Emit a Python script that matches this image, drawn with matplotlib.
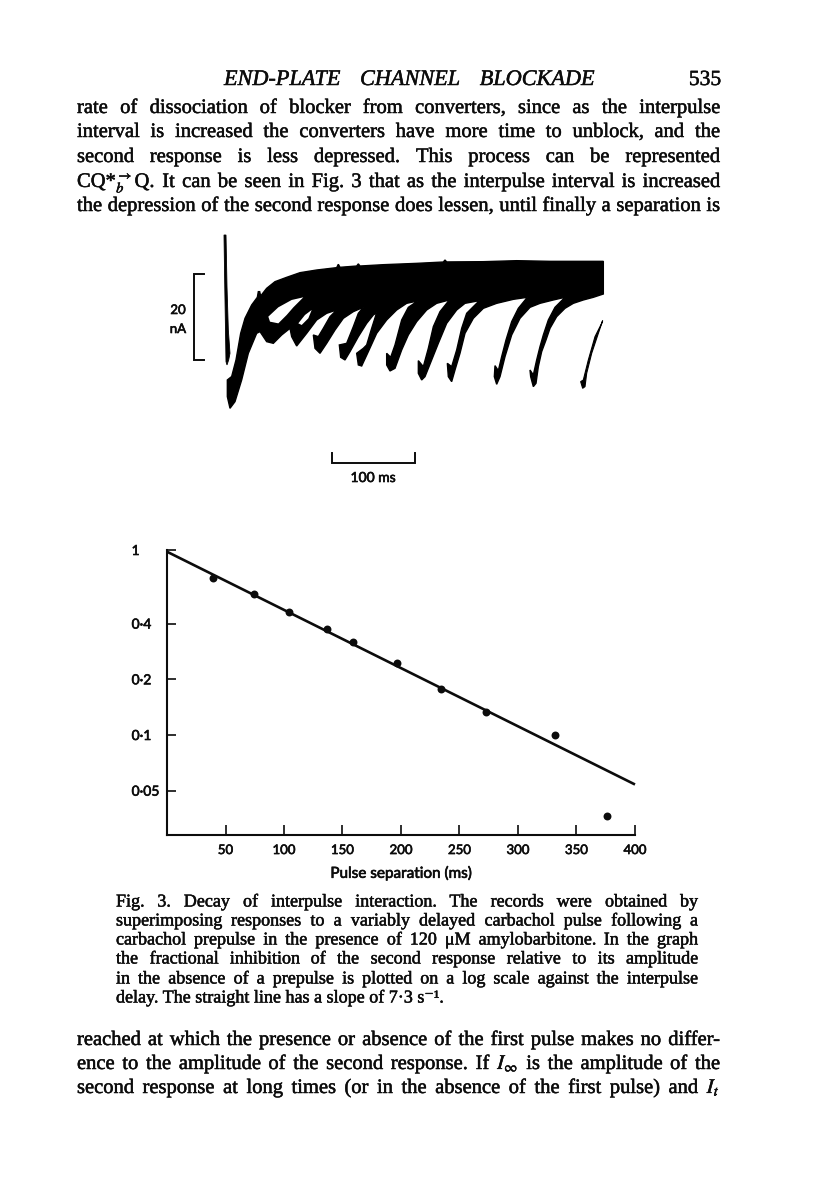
import matplotlib
matplotlib.use('Agg')
import matplotlib.pyplot as plt
import matplotlib.patheffects as pe

W, H = 816, 1195
plt.rcParams['mathtext.fontset'] = 'stix'
SERIF = ['Liberation Serif', 'DejaVu Serif']
SANS = 'Lato'
INK = '#0c0c0c'

# ---- text of the page
header = "END-PLATE CHANNEL BLOCKADE"
page_number = "535"
top_lines = [
    "rate of dissociation of blocker from converters, since as the interpulse",
    "interval is increased the converters have more time to unblock, and the",
    "second response is less depressed. This process can be represented",
    "CQ*$^{\\rightarrow}_{b}$Q. It can be seen in Fig. 3 that as the interpulse interval is increased",
    "the depression of the second response does lessen, until finally a separation is",
]
caption_lines = [
    "Fig. 3. Decay of interpulse interaction. The records were obtained by",
    "superimposing responses to a variably delayed carbachol pulse following a",
    "carbachol prepulse in the presence of 120 μM amylobarbitone. In the graph",
    "the fractional inhibition of the second response relative to its amplitude",
    "in the absence of a prepulse is plotted on a log scale against the interpulse",
]
caption_last = "delay. The straight line has a slope of 7·3 s⁻¹."
bottom_lines = [
    "reached at which the presence or absence of the first pulse makes no differ-",
    "ence to the amplitude of the second response. If $I_{\\infty}$ is the amplitude of the",
    "second response at long times (or in the absence of the first pulse) and $I_t$",
]

# ---- decay graph
pulse_sep = [39, 74, 104, 137, 159, 197, 234, 272.4, 331.4, 376]
inhibition = [0.706, 0.576, 0.464, 0.374, 0.317, 0.244, 0.177, 0.133, 0.0994, 0.0365]
fit_sep = [0, 400]
fit_inhibition = [0.979, 0.054]
x_ticks = [50, 100, 150, 200, 250, 300, 350, 400]
y_ticks = [1, 0.4, 0.2, 0.1, 0.05]
y_tick_labels = ['1', '0·4', '0·2', '0·1', '0·05']

# ---- superimposed current records: outline in ms and nA below the baseline
trace_t = [2.8, 8, 13.2, 18.8, 24, 32, 38.8, 40, 41.6, 42.8, 50, 60, 74, 90, 110, 134, 136, 138, 158,
           160, 162, 190, 230, 262, 264, 266, 310, 350, 390, 454, 454, 442, 430, 418, 408, 398, 390, 385.2, 380, 376,
           373.2, 370, 366.8, 366, 370, 374, 378, 382, 388, 396, 408, 394, 378, 366, 354, 344,
           336, 330, 326, 323.2, 324, 328, 332, 337.2, 344, 352, 362.8, 346, 326, 310, 298, 288,
           282, 276, 272, 268, 266.8, 272, 278, 284, 290, 305.2, 288, 278, 266, 256, 248, 240,
           236, 232, 232, 238, 244, 250, 258, 269.2, 254, 242, 230, 220, 212, 204, 198, 194, 194,
           198.8, 204, 212, 220, 231.2, 218, 206, 194, 182, 172, 164, 160, 158, 166, 170, 176,
           182, 178, 170, 160, 150, 144, 138.8, 137.2, 146, 154, 160, 166, 154, 142, 132, 122,
           114, 108, 106, 112, 118, 126, 134, 122, 110, 98, 86, 80, 78, 68, 58, 50, 42, 38, 28,
           20, 12, 6, 2.8]
trace_nA = [27.9, 27.1, 23.25, 17.05, 13.56, 10.46, 8.68, 7.36, 7.36, 8.37, 6.59, 5.04, 4.03, 2.95,
            2.33, 1.78, 1.0, 1.7, 1.40, 0.9, 1.4, 1.09, 0.78, 0.47, 0.0, 0.45, 0.39, 0.16, 0.31, 0.31, 7.91, 8.68, 9.30, 10.08,
            11.24, 13.18, 15.89, 18.6, 21.31, 24.8, 28.68, 29.45, 27.13, 25.58, 26.74, 23.25,
            20.15, 17.44, 13.95, 11.01, 8.68, 9.30, 10.08, 11.01, 13.56, 17.44, 22.48, 27.13,
            28.91, 27.13, 24.57, 25.73, 22.48, 18.6, 14.34, 11.24, 8.68, 9.15, 10.08, 11.24,
            13.56, 17.05, 21.7, 25.58, 28.29, 27.13, 24.03, 24.8, 20.93, 15.89, 12.4, 9.46,
            10.08, 11.63, 14.73, 19.38, 23.25, 27.13, 27.9, 26.35, 23.41, 24.8, 20.54, 15.5,
            12.01, 9.3, 10.08, 11.63, 14.34, 17.44, 20.93, 25.19, 25.81, 24.41, 21.7, 22.63,
            19.76, 13.95, 11.01, 9.53, 10.08, 11.63, 13.95, 17.05, 21.31, 24.65, 24.41, 21.7,
            20.54, 19.76, 15.89, 12.25, 12.79, 14.73, 17.83, 21.31, 23.25, 22.63, 19.76, 19.38,
            15.5, 12.4, 11.01, 12.01, 13.56, 16.28, 19.38, 21.7, 20.54, 17.44, 17.83, 15.89,
            13.18, 11.63, 12.4, 13.95, 17.05, 20.0, 17.83, 15.89, 17.44, 19.38, 18.99, 16.66,
            17.05, 21.7, 27.9, 32.94, 34.49, 31.78]
gap1_t = [52, 64, 80, 94, 82, 74, 64, 54]
gap1_nA = [13.18, 11.01, 9.3, 8.68, 11.01, 12.79, 14.73, 14.34]
gap2_t = [88, 96, 104, 100, 92]
gap2_nA = [14.73, 12.79, 11.63, 13.56, 15.11]
last_t = [453.2, 448, 440, 434, 432, 429.2, 426.8, 430, 436, 444, 452]
last_nA = [14.1, 17.05, 21.7, 26.35, 29.45, 29.84, 28.29, 27.9, 23.25, 17.83, 14.73]
artefact_t = [-1.2, 1.2, 2.4, 4, 6, 4.4, 2.4, 1.2, 0.4, -0.4]
artefact_nA = [-5.81, -5.81, 6.2, 16.28, 21.7, 23.25, 24.41, 23.64, 13.95, 4.65]
bar_nA_t = [-25.2, -37.2, -37.2, -25.2]
bar_nA_y = [3.26, 3.26, 23.25, 23.25]
bar_ms_t = [128, 128, 228, 228]
bar_ms_y = [44.8, 47.3, 47.3, 44.8]

fig = plt.figure(figsize=(W / 100, H / 100), dpi=100, facecolor='white')
renderer = fig.canvas.get_renderer()
heavy = [pe.withStroke(linewidth=0.35, foreground=INK)]
heavy_sans = [pe.withStroke(linewidth=0.45, foreground=INK)]


def put(x, y, s, size, **kw):
    kw.setdefault('family', SERIF)
    return fig.text(x / W, 1 - y / H, s, fontsize=size, color=INK, va='baseline',
                    path_effects=heavy, **kw)


def justified(line, x0, x1, y, size, **kw):
    words = line.split(' ')
    items = [put(x0, y, w, size, **kw) for w in words]
    widths = [t.get_window_extent(renderer).width for t in items]
    gap = (x1 - x0 - sum(widths)) / (len(words) - 1)
    x = x0
    for t, w in zip(items, widths):
        t.set_x(x / W)
        x += w + gap


justified(header, 224, 595, 85, 16, style='italic')
put(705, 85, page_number, 15.5, ha='center')

for i, line in enumerate(top_lines):
    justified(line, 77, 720, [113, 137, 162, 187, 211][i], 14.8)

for i, line in enumerate(caption_lines):
    justified(line, 116, 698, [906.5, 925.5, 944.5, 963.5, 983.5][i], 13)
put(116, 1002.5, caption_last, 13)

for i, line in enumerate(bottom_lines):
    justified(line, 77, 720, [1045, 1069, 1093][i], 14.8)

# records
ax_rec = fig.add_axes([150 / W, 1 - 490 / H, 470 / W, 270 / H])
ax_rec.set_xlim(-90, 474)
ax_rec.set_ylim(53.49, -9.3)
ax_rec.axis('off')
ax_rec.fill(trace_t, trace_nA, color='black', lw=1.0)
ax_rec.fill(gap1_t, gap1_nA, color='white', lw=0)
ax_rec.fill(gap2_t, gap2_nA, color='white', lw=0)
ax_rec.fill(last_t, last_nA, color='black', lw=0.8)
ax_rec.fill(artefact_t, artefact_nA, color='black', lw=0.6)
ax_rec.plot(bar_nA_t, bar_nA_y, color=INK, lw=1.4, solid_joinstyle='miter')
ax_rec.plot(bar_ms_t, bar_ms_y, color=INK, lw=1.4, solid_joinstyle='miter')
for x, y, s, size in [(178, 314, '20', 9.5), (178, 333, 'nA', 9.5), (373, 482, '100 ms', 10)]:
    fig.text(x / W, 1 - y / H, s, family=SANS, fontsize=size, color=INK, ha='center',
             va='baseline', path_effects=heavy_sans)

# decay graph
ax = fig.add_axes([167 / W, 1 - 835 / H, 468 / W, 285 / H])
ax.set_yscale('log')
ax.set_xlim(0, 400)
ax.set_ylim(0.0288, 1)
ax.plot(fit_sep, fit_inhibition, color=INK, lw=1.9, clip_on=False, solid_capstyle='butt')
ax.plot(pulse_sep, inhibition, 'o', color=INK, ms=5.7, mew=0)
for side in ['top', 'right']:
    ax.spines[side].set_visible(False)
for side in ['left', 'bottom']:
    ax.spines[side].set_linewidth(1.5)
    ax.spines[side].set_color(INK)
ax.set_xticks(x_ticks)
ax.set_xticklabels([str(v) for v in x_ticks], family=SANS, fontsize=9.5, color=INK, path_effects=heavy_sans)
ax.set_yticks(y_ticks)
ax.set_yticklabels(y_tick_labels, family=SANS, fontsize=10, color=INK, ha='left', path_effects=heavy_sans)
ax.minorticks_off()
ax.tick_params(axis='x', direction='in', length=7, width=1.2, pad=6.5, color=INK)
ax.tick_params(axis='y', direction='in', length=6.5, width=1.2, pad=25.5, color=INK)
ax.set_xlabel('Pulse separation (ms)', family=SANS, fontsize=11, color=INK, labelpad=7,
              path_effects=heavy_sans)
ax.patch.set_alpha(0)

fig.savefig('out.png', dpi=100, facecolor='white')
